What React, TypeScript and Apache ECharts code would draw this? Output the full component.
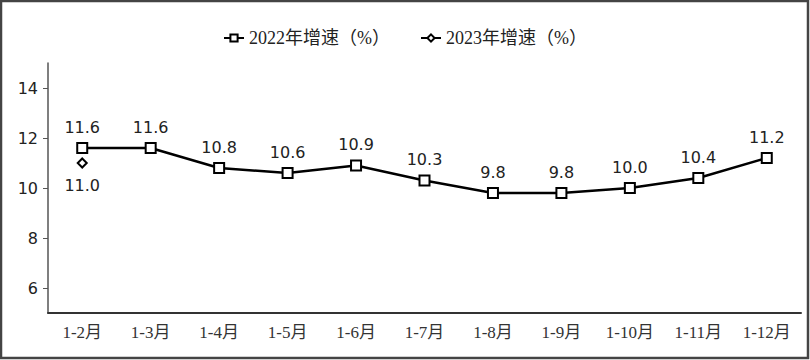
import React, { useEffect, useRef } from "react";
import * as echarts from "echarts";

const categories = ["1-2月", "1-3月", "1-4月", "1-5月", "1-6月", "1-7月", "1-8月", "1-9月", "1-10月", "1-11月", "1-12月"];
const growth2022 = [11.6, 11.6, 10.8, 10.6, 10.9, 10.3, 9.8, 9.8, 10.0, 10.4, 11.2];
const growth2023: (number | null)[] = [11.0, null, null, null, null, null, null, null, null, null, null];
const yTicks = [6, 8, 10, 12, 14];
const seriesNames = ["2022年增速（%）", "2023年增速（%）"];

const numFont = "'DejaVu Sans', Verdana, sans-serif";
const cjkFont = "'Liberation Serif', 'Noto Sans CJK SC', serif";

export default function App() {
  const ref = useRef<HTMLDivElement>(null);
  useEffect(() => {
    if (!ref.current) return;
    const chart = echarts.init(ref.current, undefined, { renderer: "svg" });
    chart.setOption({
      animation: false,
      backgroundColor: "#ffffff",
      legend: {
        top: 24,
        left: "center",
        itemGap: 30,
        itemWidth: 20,
        itemHeight: 9,
        textStyle: { fontFamily: cjkFont, fontSize: 18, color: "#222" },
        data: [seriesNames[0], seriesNames[1]],
      },
      grid: { left: 48, right: 9, top: 63, bottom: 47, containLabel: false },
      xAxis: {
        type: "category",
        data: categories,
        boundaryGap: true,
        axisLine: { lineStyle: { color: "#333", width: 2 } },
        axisTick: { show: false },
        axisLabel: { fontFamily: cjkFont, fontSize: 17, color: "#333", margin: 11 },
      },
      yAxis: {
        type: "value",
        min: 5,
        max: 15,
        interval: 1,
        splitLine: { show: false },
        axisLine: { show: true, lineStyle: { color: "#555", width: 1.5 } },
        axisTick: { show: true, length: 5, customValues: yTicks, lineStyle: { color: "#555" } },
        axisLabel: { customValues: yTicks, fontFamily: numFont, fontSize: 16, color: "#222", margin: 10 },
      },
      series: [
        {
          name: seriesNames[0],
          type: "line",
          data: growth2022,
          symbol: "rect",
          symbolSize: 10,
          lineStyle: { color: "#000", width: 2.5 },
          itemStyle: { color: "#fff", borderColor: "#000", borderWidth: 2 },
          label: {
            show: true,
            position: "top",
            distance: 7,
            formatter: (p: any) => Number(p.value).toFixed(1),
            fontFamily: numFont,
            fontSize: 16,
            color: "#222",
          },
          z: 3,
        },
        {
          name: seriesNames[1],
          type: "line",
          data: growth2023,
          symbol: "diamond",
          symbolSize: 9,
          lineStyle: { color: "#000", width: 2 },
          itemStyle: { color: "#fff", borderColor: "#000", borderWidth: 2 },
          label: {
            show: true,
            position: "bottom",
            distance: 9,
            formatter: (p: any) => Number(p.value).toFixed(1),
            fontFamily: numFont,
            fontSize: 16,
            color: "#222",
          },
          z: 4,
        },
      ],
      graphic: [
        {
          type: "rect",
          shape: { x: 1, y: 1, width: 807, height: 357 },
          style: { fill: "none", stroke: "#444", lineWidth: 2.5 },
          silent: true,
        },
      ],
    });
    return () => chart.dispose();
  }, []);
  return (
    <div
      ref={ref}
      style={{ position: "fixed", left: 0, top: 0, width: 810, height: 360 }}
    />
  );
}
